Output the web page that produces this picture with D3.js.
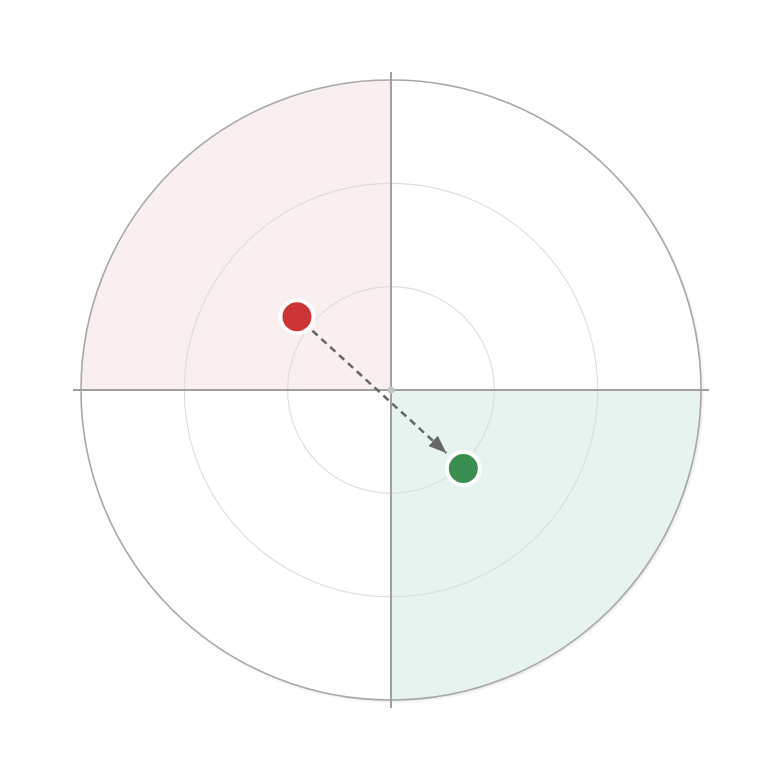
<!DOCTYPE html>
<html>
<head>
<meta charset="utf-8">
<script src="https://cdn.jsdelivr.net/npm/d3@7"></script>
<style>
  html, body { margin: 0; padding: 0; background: #ffffff; }
  svg { display: block; }
</style>
</head>
<body>
<div id="chart"></div>
<script>
// ---- data ----
const ringLevels = [1, 2, 3];            // concentric rings (data units)
const axisExtent = 3;                    // outer radius in data units
const shadedQuadrants = ["topLeft", "bottomRight"];
const pointNames = ["start", "end"];
const pointX = [-0.91, 0.70];
const pointY = [0.71, -0.76];

// ---- layout ----
const W = 782, H = 782;
const cx = 391, cy = 390, R = 310;

const svg = d3.select("#chart").append("svg").attr("width", W).attr("height", H);
const defs = svg.append("defs");

const f = defs.append("filter").attr("id", "shadow")
  .attr("x", "-10%").attr("y", "-10%").attr("width", "120%").attr("height", "120%");
f.append("feDropShadow").attr("dx", 1.5).attr("dy", 1.5).attr("stdDeviation", 1.5)
  .attr("flood-color", "#000").attr("flood-opacity", 0.12);

defs.append("marker").attr("id", "arrow")
  .attr("viewBox", "0 0 18 14").attr("refX", 18).attr("refY", 7)
  .attr("markerWidth", 18).attr("markerHeight", 14).attr("orient", "auto")
  .attr("markerUnits", "userSpaceOnUse")
  .append("path").attr("d", "M0,0 L18,7 L0,14 Z").attr("fill", "#666");

const x = d3.scaleLinear().domain([-axisExtent, axisExtent]).range([cx - R, cx + R]);
const y = d3.scaleLinear().domain([-axisExtent, axisExtent]).range([cy + R, cy - R]);
const r = d3.scaleLinear().domain([0, axisExtent]).range([0, R]);

const g = svg.append("g");

// outer disc with shadow
g.append("circle").attr("cx", cx).attr("cy", cy).attr("r", r(axisExtent))
  .attr("fill", "#ffffff").attr("filter", "url(#shadow)");

// shaded quadrants
const quadAngles = {
  topRight: [0, Math.PI / 2],
  bottomRight: [Math.PI / 2, Math.PI],
  bottomLeft: [Math.PI, 1.5 * Math.PI],
  topLeft: [1.5 * Math.PI, 2 * Math.PI]
};
const quadColor = { topLeft: "#f8efee", bottomRight: "#e6f3ef" };
const arc = d3.arc().innerRadius(0).outerRadius(r(axisExtent));
g.selectAll("path.quad").data(shadedQuadrants).join("path")
  .attr("class", "quad")
  .attr("transform", `translate(${cx},${cy})`)
  .attr("d", d => arc({ startAngle: quadAngles[d][0], endAngle: quadAngles[d][1] }))
  .attr("fill", d => quadColor[d]);

// rings
g.selectAll("circle.ring").data(ringLevels).join("circle")
  .attr("class", "ring")
  .attr("cx", cx).attr("cy", cy).attr("r", d => r(d))
  .attr("fill", "none")
  .attr("stroke", d => d === axisExtent ? "#a8a8a8" : "#dddddd")
  .attr("stroke-width", d => d === axisExtent ? 1.6 : 1.1);

// axes
const ext = 8;
g.append("line").attr("x1", x(-axisExtent) - ext).attr("x2", x(axisExtent) + ext)
  .attr("y1", y(0)).attr("y2", y(0)).attr("stroke", "#a0a0a0").attr("stroke-width", 2);
g.append("line").attr("x1", x(0)).attr("x2", x(0))
  .attr("y1", y(axisExtent) - ext).attr("y2", y(-axisExtent) + ext)
  .attr("stroke", "#a0a0a0").attr("stroke-width", 2);
g.append("circle").attr("cx", x(0)).attr("cy", y(0)).attr("r", 3.5).attr("fill", "#c4c4c4");

// arrow between points
const p0 = [x(pointX[0]), y(pointY[0])];
const p1 = [x(pointX[1]), y(pointY[1])];
const dx = p1[0] - p0[0], dy = p1[1] - p0[1];
const len = Math.hypot(dx, dy);
const ux = dx / len, uy = dy / len;
const startOff = 21, endOff = 23;
g.append("line")
  .attr("x1", p0[0] + ux * startOff).attr("y1", p0[1] + uy * startOff)
  .attr("x2", p1[0] - ux * endOff).attr("y2", p1[1] - uy * endOff)
  .attr("stroke", "#666").attr("stroke-width", 2.5)
  .attr("stroke-dasharray", "7,5")
  .attr("marker-end", "url(#arrow)");

// points
const pointColor = ["#cc3535", "#3a8f50"];
g.selectAll("circle.pt").data(pointNames).join("circle")
  .attr("class", "pt")
  .attr("cx", (d, i) => x(pointX[i])).attr("cy", (d, i) => y(pointY[i]))
  .attr("r", 16.5)
  .attr("fill", (d, i) => pointColor[i])
  .attr("stroke", "#ffffff").attr("stroke-width", 4);
</script>
</body>
</html>
